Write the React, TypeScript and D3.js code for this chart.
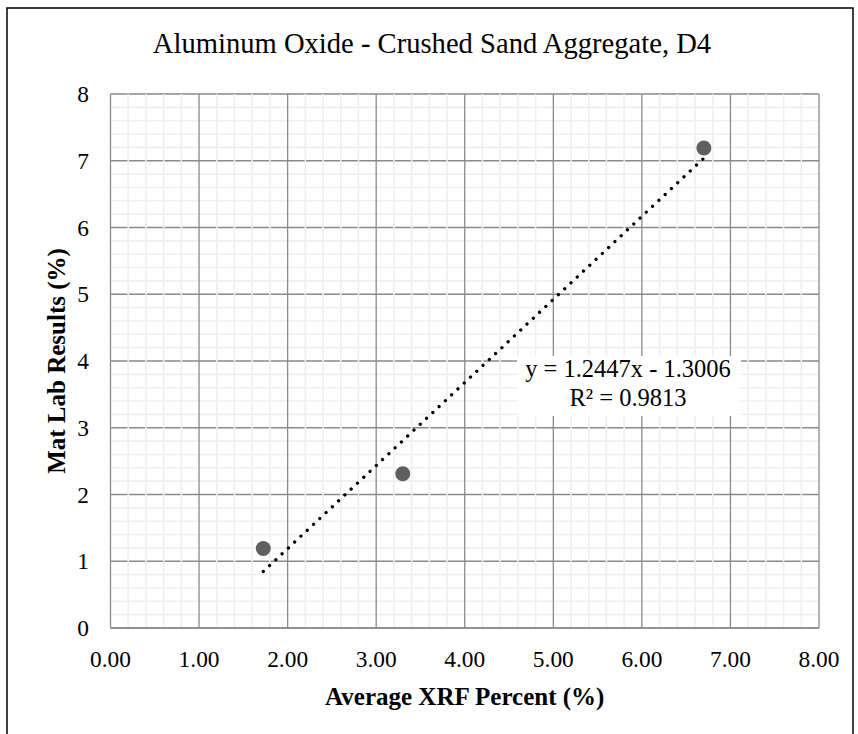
import React from "react";
import * as d3 from "d3";

const title = "Aluminum Oxide - Crushed Sand Aggregate, D4";
const xLabel = "Average XRF Percent (%)";
const yLabel = "Mat Lab Results (%)";

const xrfValues = [1.725, 3.3, 6.7];
const labValues = [1.19, 2.31, 7.19];

const xTicks = [0, 1, 2, 3, 4, 5, 6, 7, 8];
const yTicks = [0, 1, 2, 3, 4, 5, 6, 7, 8];

const trendSlope = 1.2447;
const trendIntercept = -1.3006;
const equationLines = ["y = 1.2447x - 1.3006", "R² = 0.9813"];

const W = 858;
const H = 734;
const plot = { left: 110.5, right: 819, top: 94, bottom: 628 };
const serif = '"Liberation Serif", "Times New Roman", Tinos, "DejaVu Serif", serif';

export default function App() {
  const x = d3.scaleLinear().domain([0, 8]).range([plot.left, plot.right]);
  const y = d3.scaleLinear().domain([0, 8]).range([plot.bottom, plot.top]);

  // minor grid: 5 divisions per major step
  const minorX = d3.range(0, 8.0001, 0.2).filter((v) => Math.abs(v - Math.round(v)) > 0.01);
  const minorY = d3.range(0, 8.0001, 0.2).filter((v) => Math.abs(v - Math.round(v)) > 0.01);

  const [x0, x1] = d3.extent(xrfValues) as [number, number];
  const trend = d3.line<number>()
    .x((d) => x(d))
    .y((d) => y(trendSlope * d + trendIntercept));

  const major = "#8a8a8a";
  const minor = "#efefef";
  const txt = { fontFamily: serif, fill: "#000" };

  return (
    <svg width={W} height={H} style={{ position: "absolute", left: 0, top: 0 }}>
      <rect x={0} y={0} width={W} height={H} fill="#fff" />
      <rect x={7} y={8} width={846} height={760} fill="none" stroke="#000" strokeWidth={1.5} />

      <text x={432} y={53} textAnchor="middle" fontSize={28.6} style={txt}>{title}</text>

      {/* horizontal minor, horizontal major, vertical minor, vertical major */}
      {minorY.map((v) => (
        <line key={"hm" + v} x1={plot.left} x2={plot.right} y1={y(v)} y2={y(v)} stroke={minor} strokeWidth={1.6} />
      ))}
      {yTicks.map((v) => (
        <line key={"hM" + v} x1={plot.left} x2={plot.right} y1={y(v)} y2={y(v)} stroke={major} strokeWidth={1.3} />
      ))}
      {minorX.map((v) => (
        <line key={"vm" + v} x1={x(v)} x2={x(v)} y1={plot.top} y2={plot.bottom - 1} stroke={minor} strokeWidth={1.6} />
      ))}
      {xTicks.map((v) => (
        <line key={"vM" + v} x1={x(v)} x2={x(v)} y1={plot.top} y2={plot.bottom} stroke={major} strokeWidth={1.3} />
      ))}
      <line x1={plot.left} x2={plot.right} y1={y(0)} y2={y(0)} stroke={major} strokeWidth={1.5} />

      {xTicks.map((v) => (
        <text key={"xt" + v} x={x(v)} y={667} textAnchor="middle" fontSize={23.4} style={txt}>{v.toFixed(2)}</text>
      ))}
      {yTicks.map((v) => (
        <text key={"yt" + v} x={89} y={y(v)} dy="0.35em" textAnchor="end" fontSize={23.4} style={txt}>{v}</text>
      ))}

      <text x={(plot.left + plot.right) / 2} y={705} textAnchor="middle" fontSize={25} fontWeight="bold" style={txt}>{xLabel}</text>
      <text transform={`translate(65,${(plot.top + plot.bottom) / 2}) rotate(-90)`} textAnchor="middle" fontSize={25} fontWeight="bold" style={txt}>{yLabel}</text>

      {xrfValues.map((v, i) => (
        <circle key={"p" + i} cx={x(v)} cy={y(labValues[i])} r={7.5} fill="#5f5f5f" />
      ))}

      <path d={trend([x0, x1]) || ""} fill="none" stroke="#000" strokeWidth={3.3} strokeLinecap="round" strokeDasharray="0.01 8.6" />

      <rect x={517} y={356} width={224} height={60} fill="#fff" />
      {equationLines.map((t, i) => (
        <text key={"eq" + i} x={628} y={377 + i * 29} textAnchor="middle" fontSize={24.5} style={txt}>{t}</text>
      ))}
    </svg>
  );
}
